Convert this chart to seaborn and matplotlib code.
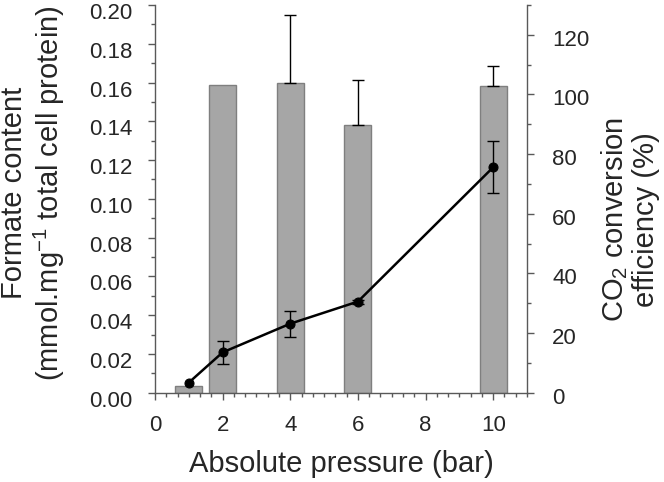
import numpy as np
import pandas as pd
import matplotlib.pyplot as plt
import matplotlib.transforms as mtransforms
from matplotlib.ticker import MultipleLocator
import seaborn as sns

# Data
pressure = [1, 2, 4, 6, 10]
formate = [0.0052, 0.0208, 0.0356, 0.0470, 0.1163]
formate_err = [0.0, 0.0060, 0.0067, 0.0010, 0.0134]
efficiency = [2.3, 103.2, 103.8, 89.6, 102.9]
efficiency_err = [0.0, 0.0, 23.0, 15.1, 6.6]

sns.set_style('ticks')
plt.rcParams['font.family'] = ['Liberation Sans', 'DejaVu Sans']
plt.rcParams['mathtext.fontset'] = 'custom'
plt.rcParams['mathtext.rm'] = 'Liberation Sans'

axis_col = '#595959'
df = pd.DataFrame({'pressure': pressure, 'formate': formate,
                   'efficiency': efficiency,
                   'formate_err': formate_err,
                   'efficiency_err': efficiency_err})

fig = plt.figure(figsize=(6.64, 4.82), dpi=100)
ax = fig.add_axes([0.2334, 0.1853, 0.5603, 0.8043])
ax2 = ax.twinx()

# Bars (CO2 conversion efficiency) on right axis
sns.barplot(data=df, x='pressure', y='efficiency', native_scale=True,
            color='#a6a6a6', saturation=1, edgecolor='#7f7f7f', linewidth=1,
            width=0.8, errorbar=None, ax=ax2)
be = df[df['efficiency_err'] > 0]
ax2.errorbar(be['pressure'], be['efficiency'],
             yerr=[np.zeros(len(be)), be['efficiency_err']],
             fmt='none', ecolor='black', elinewidth=1, capsize=4.5, capthick=1)

# Line (formate content) on left axis, drawn on top
sns.lineplot(data=df, x='pressure', y='formate', color='black', linewidth=1.8,
             marker='o', markersize=6.5, markeredgecolor='black', ax=ax)
fe = df[df['formate_err'] > 0]
ax.errorbar(fe['pressure'], fe['formate'], yerr=fe['formate_err'], fmt='none',
            ecolor='black', elinewidth=1, capsize=4.5, capthick=1)
ax.set_zorder(ax2.get_zorder() + 1)
ax.patch.set_visible(False)

ax.set_xlim(0, 11)
ax.set_ylim(0, 0.20)
ax2.set_ylim(0, 130)
ax.xaxis.set_major_locator(MultipleLocator(2))
ax.xaxis.set_minor_locator(MultipleLocator(1 / 3))
ax.yaxis.set_major_locator(MultipleLocator(0.02))
ax.yaxis.set_minor_locator(MultipleLocator(0.01))
ax2.yaxis.set_major_locator(MultipleLocator(20))
ax2.yaxis.set_minor_locator(MultipleLocator(10))
ax.yaxis.set_major_formatter(lambda v, p: f'{v:.2f}')

for a in (ax, ax2):
    a.tick_params(which='major', length=5, width=1, color=axis_col,
                  labelsize=16, pad=11, direction='out')
    a.tick_params(which='minor', length=3, width=1, color=axis_col,
                  direction='out')
    for s in a.spines.values():
        s.set_color(axis_col)
        s.set_linewidth(1)
    a.spines['top'].set_visible(False)
    a.set_xlabel('')
    a.set_ylabel('')
ax.spines['right'].set_visible(False)
ax2.spines['left'].set_visible(False)
ax2.spines['bottom'].set_visible(False)
ax2.tick_params(axis='y', pad=13)

# tick labels sit a little low in the original
off = mtransforms.ScaledTranslation(0, -6 / 100, fig.dpi_scale_trans)
for lab in ax.get_yticklabels():
    lab.set_transform(lab.get_transform() + off)
off2 = mtransforms.ScaledTranslation(0, -3 / 100, fig.dpi_scale_trans)
for lab in ax2.get_yticklabels():
    lab.set_transform(lab.get_transform() + off2)

ax.set_xlabel('Absolute pressure (bar)', fontsize=21, labelpad=10)

fig.text(0.021, 0.600, 'Formate content', rotation=90, fontsize=21,
         ha='center', va='center')
fig.text(0.074, 0.600, '(mmol.mg$^{\\mathregular{-1}}$ total cell protein)',
         rotation=90, fontsize=21, ha='center', va='center')
fig.text(0.925, 0.544, 'CO$_{\\mathregular{2}}$ conversion', rotation=90,
         fontsize=21, ha='center', va='center')
fig.text(0.973, 0.544, 'efficiency (%)', rotation=90, fontsize=21,
         ha='center', va='center')

fig.savefig('out.png', dpi=100)
